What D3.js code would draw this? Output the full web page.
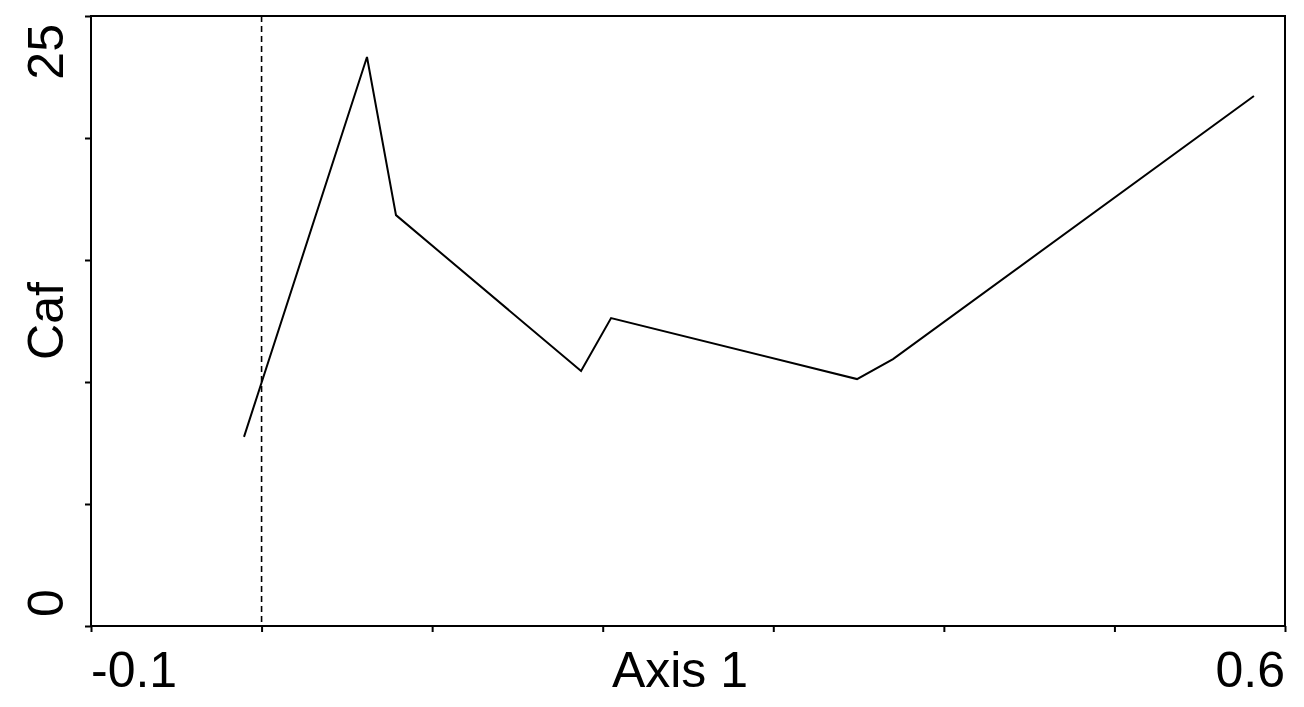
<!DOCTYPE html>
<html>
<head>
<meta charset="utf-8">
<script src="https://cdn.jsdelivr.net/npm/d3@7"></script>
<style>
html,body{margin:0;padding:0;background:#fff;}
svg{display:block;}
text{font-family:"Liberation Sans",Arial,sans-serif;fill:#000;}
</style>
</head>
<body>
<svg id="chart" width="1304" height="707"></svg>
<script>
const axis1 = [-0.0103, 0.0618, 0.0788, 0.1873, 0.2049, 0.3491, 0.3702, 0.5818];
const caf   = [7.75, 23.32, 16.84, 10.45, 12.62, 10.12, 10.94, 21.72];
const xTicks = [-0.1, 0, 0.1, 0.2, 0.3, 0.4, 0.5, 0.6];
const yTicks = [0, 5, 10, 15, 20, 25];
const xTickLabels = ["-0.1", "0.6"];
const yTickLabels = ["0", "25"];
const xTitle = "Axis 1";
const yTitle = "Caf";

const svg = d3.select("#chart");
const L = 91, R = 1285, T = 16, B = 626;
const x = d3.scaleLinear().domain([-0.1, 0.6]).range([L, R]);
const y = d3.scaleLinear().domain([0, 25]).range([B, T]);

// dashed zero line
svg.append("line")
  .attr("x1", x(0)).attr("x2", x(0)).attr("y1", T).attr("y2", B)
  .attr("stroke", "#000").attr("stroke-width", 1.6)
  .attr("stroke-dasharray", "6,4");

// frame
svg.append("rect").attr("x", L).attr("y", T).attr("width", R - L).attr("height", B - T)
  .attr("fill", "none").attr("stroke", "#000").attr("stroke-width", 2);

// axes
const xAxis = d3.axisBottom(x).tickValues(xTicks).tickSize(6).tickFormat("");
const gx = svg.append("g").attr("transform", `translate(0,${B})`).call(xAxis);
gx.select(".domain").remove();
gx.selectAll("line").attr("stroke", "#000").attr("stroke-width", 2);

const yAxis = d3.axisLeft(y).tickValues(yTicks).tickSize(6).tickFormat("");
const gy = svg.append("g").attr("transform", `translate(${L},0)`).call(yAxis);
gy.select(".domain").remove();
gy.selectAll("line").attr("stroke", "#000").attr("stroke-width", 2);

// x tick labels
svg.append("text").attr("x", x(-0.1)).attr("y", 687).attr("font-size", 50)
  .attr("text-anchor", "start").text(xTickLabels[0]);
svg.append("text").attr("x", x(0.6)).attr("y", 687).attr("font-size", 50)
  .attr("text-anchor", "end").text(xTickLabels[1]);
svg.append("text").attr("x", 680).attr("y", 687).attr("font-size", 50)
  .attr("text-anchor", "middle").text(xTitle);

// y tick labels (rotated)
svg.append("text").attr("transform", `translate(63,${y(0) - 9}) rotate(-90)`)
  .attr("font-size", 50).attr("text-anchor", "start").text(yTickLabels[0]);
svg.append("text").attr("transform", `translate(63,${y(25) + 8}) rotate(-90)`)
  .attr("font-size", 50).attr("text-anchor", "end").text(yTickLabels[1]);
svg.append("text").attr("transform", `translate(63,${(T + B) / 2}) rotate(-90)`)
  .attr("font-size", 50).attr("text-anchor", "middle").text(yTitle);

// data line
const pts = axis1.map((d, i) => [d, caf[i]]);
svg.append("path").datum(pts)
  .attr("d", d3.line().x(d => x(d[0])).y(d => y(d[1])))
  .attr("fill", "none").attr("stroke", "#000").attr("stroke-width", 2)
  .attr("stroke-linejoin", "miter");
</script>
</body>
</html>
